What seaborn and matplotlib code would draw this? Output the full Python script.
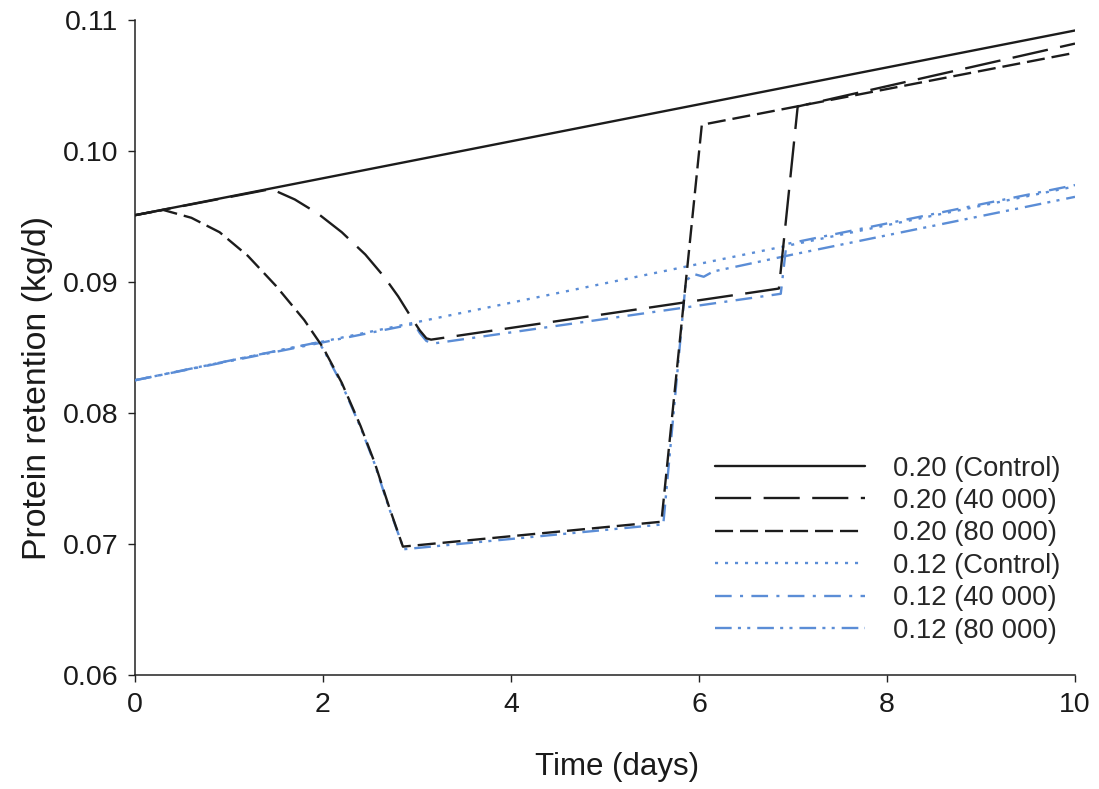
import matplotlib
matplotlib.use("Agg")
import matplotlib.pyplot as plt
import seaborn as sns
import pandas as pd

# ---------------- data ----------------
t_c20 = [0, 10]
p_c20 = [0.0951, 0.1092]

t_40k20 = [0, 1.45, 1.7, 1.95, 2.2, 2.45, 2.65, 2.8, 2.93, 3.03, 3.1, 3.15, 6.85, 7.05, 10]
p_40k20 = [0.0951, 0.0971, 0.0963, 0.0952, 0.0938, 0.0921, 0.0904, 0.0889, 0.0874, 0.0863, 0.0857, 0.0856,
           0.0895, 0.1034, 0.1082]

t_80k20 = [0, 0.3, 0.6, 0.9, 1.2, 1.5, 1.8, 2.0, 2.2, 2.4, 2.55, 2.7, 2.85, 5.6, 6.03, 10]
p_80k20 = [0.0951, 0.0955, 0.0949, 0.0938, 0.0920, 0.0897, 0.0871, 0.0850, 0.0823, 0.0790, 0.0762, 0.0729,
           0.0698, 0.0717, 0.1020, 0.1075]

t_c12 = [0, 10]
p_c12 = [0.0825, 0.0973]

t_40k12 = [0, 2.97, 3.03, 3.1, 3.17, 6.87, 6.93, 10]
p_40k12 = [0.0825, 0.0868, 0.0861, 0.0855, 0.0853, 0.0891, 0.0929, 0.0974]

t_80k12 = [0, 1.95, 2.0, 2.2, 2.4, 2.55, 2.7, 2.86, 5.62, 5.86, 5.95, 6.05, 6.15, 7.0, 10]
p_80k12 = [0.0825, 0.0854, 0.0849, 0.0822, 0.0789, 0.0761, 0.0728, 0.0696, 0.0715, 0.0901, 0.0906, 0.0904,
           0.0908, 0.0921, 0.0965]

labels = ["0.20 (Control)", "0.20 (40 000)", "0.20 (80 000)",
          "0.12 (Control)", "0.12 (40 000)", "0.12 (80 000)"]
x_ticks = [0, 2, 4, 6, 8, 10]
y_ticks = [0.06, 0.07, 0.08, 0.09, 0.10, 0.11]

# ---------------- style ----------------
sns.set_style("ticks")
plt.rcParams["font.family"] = ["Liberation Sans", "DejaVu Sans"]
plt.rcParams["lines.scale_dashes"] = False

BLACK = "#1c1c1c"
BLUE = "#5b8dd6"
TXT = "#1a1a1a"

series = [
    (t_c20, p_c20, labels[0], BLACK, "-", 5),
    (t_40k20, p_40k20, labels[1], BLACK, (0, (26, 9)), 5),
    (t_80k20, p_80k20, labels[2], BLACK, (0, (13, 5)), 5),
    (t_c12, p_c12, labels[3], BLUE, (0, (2.2, 5)), 4),
    (t_40k12, p_40k12, labels[4], BLUE, (0, (12, 6, 2.2, 6)), 3),
    (t_80k12, p_80k12, labels[5], BLUE, (0, (12, 4.5, 2.2, 4.5, 2.2, 5)), 3),
]

fig = plt.figure(figsize=(10.99, 7.89), dpi=100)
ax = fig.add_axes([135 / 1099, 1 - 675 / 789, 940 / 1099, 655 / 789])

for t, p, lab, col, ls, z in series:
    df = pd.DataFrame({"t": t, "p": p})
    sns.lineplot(data=df, x="t", y="p", ax=ax, color=col, linestyle=ls,
                 linewidth=1.7, label=lab, estimator=None, sort=False, zorder=z)

ax.set_xlim(0, 10)
ax.set_ylim(0.06, 0.11)
ax.set_xticks(x_ticks)
ax.set_xticklabels([str(v) for v in x_ticks])
ax.set_yticks(y_ticks)
ax.set_yticklabels([f"{v:.2f}" for v in y_ticks])
ax.tick_params(axis="both", direction="out", length=5, width=1.0,
               labelsize=20.5, color="#222222", labelcolor=TXT, pad=7)
for s in ["top", "right"]:
    ax.spines[s].set_visible(False)
for s in ["left", "bottom"]:
    ax.spines[s].set_linewidth(1.1)
    ax.spines[s].set_color("#222222")

ax.set_xlabel("Time (days)", fontsize=22.5, color=TXT)
ax.set_ylabel("Protein retention (kg/d)", fontsize=24.4, color=TXT)
ax.xaxis.set_label_coords(0.513, -0.117)
ax.yaxis.set_label_coords(-0.087, 0.438)

ax.legend(loc="upper left", bbox_to_anchor=(0.617, 0.335), frameon=False,
          fontsize=19.7, handlelength=5.5, handletextpad=1.0,
          labelspacing=0.235, borderpad=0, borderaxespad=0)

fig.savefig("out.png", dpi=100)
